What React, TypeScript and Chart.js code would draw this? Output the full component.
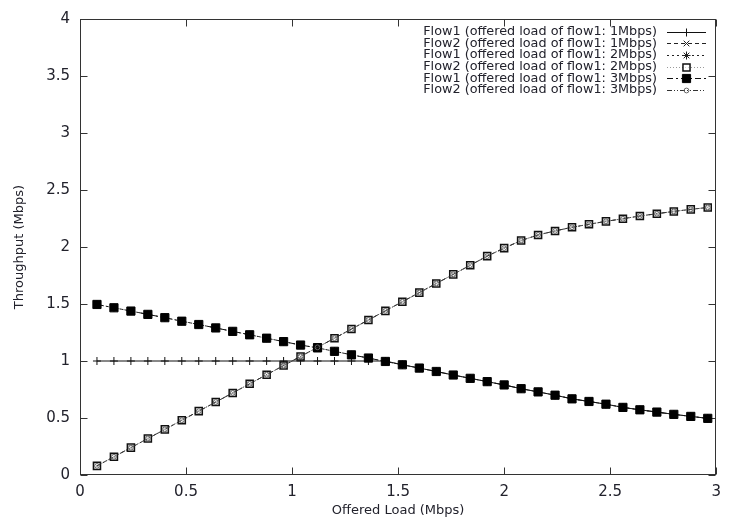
import React, { useEffect, useRef } from 'react';
import { Chart, registerables } from 'chart.js';

Chart.register(...registerables);

// Offered load of flow2 (x axis, Mbps)
const offeredLoad = [
  0.08, 0.16, 0.24, 0.32, 0.40, 0.48, 0.56, 0.64, 0.72, 0.80, 0.88, 0.96, 1.04,
  1.12, 1.20, 1.28, 1.36, 1.44, 1.52, 1.60, 1.68, 1.76, 1.84, 1.92, 2.00, 2.08,
  2.16, 2.24, 2.32, 2.40, 2.48, 2.56, 2.64, 2.72, 2.80, 2.88, 2.96,
];

const flow1Load1 = [
  1, 1, 1, 1, 1, 1, 1, 1, 1, 1, 1, 1, 1, 1, 1, 1, 1, 1.0, 0.967, 0.938, 0.908,
  0.877, 0.848, 0.819, 0.79, 0.757, 0.729, 0.70, 0.668, 0.645, 0.621, 0.593,
  0.572, 0.552, 0.532, 0.514, 0.497,
];

const flow2Load1 = [
  0.08, 0.16, 0.24, 0.32, 0.40, 0.48, 0.56, 0.64, 0.72, 0.80, 0.88, 0.96, 1.04,
  1.12, 1.20, 1.28, 1.36, 1.44, 1.52, 1.60, 1.68, 1.76, 1.84, 1.92, 1.99, 2.057,
  2.106, 2.141, 2.173, 2.199, 2.225, 2.248, 2.272, 2.292, 2.312, 2.33, 2.347,
];

const flow1Load2 = [
  1.496, 1.467, 1.438, 1.409, 1.38, 1.349, 1.32, 1.29, 1.26, 1.23, 1.20, 1.17,
  1.14, 1.115, 1.085, 1.054, 1.026, 0.996, 0.967, 0.938, 0.908, 0.877, 0.848,
  0.819, 0.79, 0.757, 0.729, 0.70, 0.668, 0.645, 0.621, 0.593, 0.572, 0.552,
  0.532, 0.514, 0.497,
];

const flow2Load2 = [
  0.08, 0.16, 0.24, 0.32, 0.40, 0.48, 0.56, 0.64, 0.72, 0.80, 0.88, 0.96, 1.04,
  1.12, 1.20, 1.28, 1.36, 1.44, 1.52, 1.60, 1.68, 1.76, 1.84, 1.92, 1.99, 2.057,
  2.106, 2.141, 2.173, 2.199, 2.225, 2.248, 2.272, 2.292, 2.312, 2.33, 2.347,
];

const flow1Load3 = [
  1.496, 1.467, 1.438, 1.409, 1.38, 1.349, 1.32, 1.29, 1.26, 1.23, 1.20, 1.17,
  1.14, 1.115, 1.085, 1.054, 1.026, 0.996, 0.967, 0.938, 0.908, 0.877, 0.848,
  0.819, 0.79, 0.757, 0.729, 0.70, 0.668, 0.645, 0.621, 0.593, 0.572, 0.552,
  0.532, 0.514, 0.497,
];

const flow2Load3 = [
  0.08, 0.16, 0.24, 0.32, 0.40, 0.48, 0.56, 0.64, 0.72, 0.80, 0.88, 0.96, 1.04,
  1.12, 1.20, 1.28, 1.36, 1.44, 1.52, 1.60, 1.68, 1.76, 1.84, 1.92, 1.99, 2.057,
  2.106, 2.141, 2.173, 2.199, 2.225, 2.248, 2.272, 2.292, 2.312, 2.33, 2.347,
];

const seriesLabels = [
  'Flow1 (offered load of flow1: 1Mbps)',
  'Flow2 (offered load of flow1: 1Mbps)',
  'Flow1 (offered load of flow1: 2Mbps)',
  'Flow2 (offered load of flow1: 2Mbps)',
  'Flow1 (offered load of flow1: 3Mbps)',
  'Flow2 (offered load of flow1: 3Mbps)',
];

const xAxisTitle = 'Offered Load (Mbps)';
const yAxisTitle = 'Throughput (Mbps)';
const xMin = 0, xMax = 3, xStep = 0.5;
const yMin = 0, yMax = 4, yStep = 0.5;

const TEXT = '#22222c';
const FONT = '"DejaVu Sans", sans-serif';

type Style = {
  line: string;
  dash: number[];
  point: string;
  radius: number;
  pFill: string;
  pStroke: string;
  pWidth: number;
};

const styles: Style[] = [
  { line: '#111', dash: [], point: 'cross', radius: 4, pFill: 'rgba(0,0,0,0)', pStroke: '#111', pWidth: 1 },
  { line: '#222', dash: [4, 3], point: 'crossRot', radius: 4, pFill: 'rgba(0,0,0,0)', pStroke: '#222', pWidth: 1 },
  { line: '#222', dash: [2, 3], point: 'star', radius: 4, pFill: 'rgba(0,0,0,0)', pStroke: '#222', pWidth: 1 },
  { line: '#9a9a9a', dash: [1, 2], point: 'rect', radius: 5, pFill: 'rgba(255,255,255,0.6)', pStroke: '#111', pWidth: 1.5 },
  { line: '#111', dash: [6, 3, 2, 3], point: 'rect', radius: 5.8, pFill: '#000', pStroke: '#000', pWidth: 1 },
  { line: '#333', dash: [5, 2, 1, 2, 1, 2], point: 'circle', radius: 2.4, pFill: 'rgba(0,0,0,0)', pStroke: '#666', pWidth: 1 },
];

const seriesValues = [flow1Load1, flow2Load1, flow1Load2, flow2Load2, flow1Load3, flow2Load3];

const fmt = (v: any) => String(parseFloat(Number(v).toFixed(2)));

function drawMarker(ctx: CanvasRenderingContext2D, s: Style, x: number, y: number) {
  const r = s.radius;
  ctx.save();
  ctx.setLineDash([]);
  ctx.lineWidth = s.pWidth;
  ctx.strokeStyle = s.pStroke;
  ctx.fillStyle = s.pFill;
  ctx.beginPath();
  const d = r * Math.SQRT1_2;
  if (s.point === 'cross' || s.point === 'star') {
    ctx.moveTo(x - r, y); ctx.lineTo(x + r, y);
    ctx.moveTo(x, y - r); ctx.lineTo(x, y + r);
  }
  if (s.point === 'crossRot' || s.point === 'star') {
    ctx.moveTo(x - d, y - d); ctx.lineTo(x + d, y + d);
    ctx.moveTo(x - d, y + d); ctx.lineTo(x + d, y - d);
  }
  if (s.point === 'rect') {
    ctx.rect(x - d, y - d, 2 * d, 2 * d);
    ctx.fill();
  }
  if (s.point === 'circle') {
    ctx.arc(x, y, r, 0, Math.PI * 2);
    ctx.fill();
  }
  ctx.stroke();
  ctx.restore();
}

const framePlugin = {
  id: 'gnuFrame',
  beforeDatasetsDraw(chart: any) {
    const { ctx, chartArea: a, scales } = chart;
    const t = 7;
    ctx.save();
    ctx.setLineDash([]);
    ctx.strokeStyle = '#333';
    ctx.lineWidth = 1;
    const L = Math.round(a.left) + 0.5;
    const R = Math.round(a.right) - 0.5;
    const T = Math.round(a.top) + 0.5;
    const B = Math.round(a.bottom) - 0.5;
    ctx.strokeRect(L, T, R - L, B - T);
    ctx.beginPath();
    scales.x.ticks.forEach((tk: any) => {
      const px = Math.round(scales.x.getPixelForValue(tk.value)) + 0.5;
      ctx.moveTo(px, B); ctx.lineTo(px, B - t);
      ctx.moveTo(px, T); ctx.lineTo(px, T + t);
    });
    scales.y.ticks.forEach((tk: any) => {
      const py = Math.round(scales.y.getPixelForValue(tk.value)) + 0.5;
      ctx.moveTo(L, py); ctx.lineTo(L + t, py);
      ctx.moveTo(R, py); ctx.lineTo(R - t, py);
    });
    ctx.stroke();
    ctx.restore();
  },
};

const legendPlugin = {
  id: 'gnuLegend',
  afterDatasetsDraw(chart: any) {
    const { ctx } = chart;
    const textRight = 657;
    const lineStart = 667;
    const lineEnd = 706;
    const top = 31.5;
    const rowH = 11.7;
    ctx.save();
    ctx.font = `12.8px ${FONT}`;
    ctx.textAlign = 'right';
    ctx.textBaseline = 'middle';
    chart.data.datasets.forEach((ds: any, i: number) => {
      const y = top + i * rowH;
      const s = styles[i];
      ctx.fillStyle = TEXT;
      ctx.fillText(ds.label, textRight, y);
      ctx.save();
      ctx.strokeStyle = s.line;
      ctx.lineWidth = 1;
      ctx.setLineDash(s.dash);
      ctx.beginPath();
      ctx.moveTo(lineStart, Math.round(y) + 0.5);
      ctx.lineTo(lineEnd, Math.round(y) + 0.5);
      ctx.stroke();
      ctx.restore();
      drawMarker(ctx, s, (lineStart + lineEnd) / 2, Math.round(y) + 0.5);
    });
    ctx.restore();
  },
};

export default function App() {
  const canvasRef = useRef<HTMLCanvasElement | null>(null);

  useEffect(() => {
    document.body.style.margin = '0';
    const canvas = canvasRef.current;
    if (!canvas) return;
    const datasets = seriesValues.map((vals, i) => {
      const s = styles[i];
      return {
        label: seriesLabels[i],
        data: offeredLoad.map((x, k) => ({ x, y: vals[k] })),
        borderColor: s.line,
        borderWidth: 1,
        borderDash: s.dash,
        pointStyle: s.point,
        pointRadius: s.radius,
        pointBackgroundColor: s.pFill,
        pointBorderColor: s.pStroke,
        pointBorderWidth: s.pWidth,
        showLine: true,
        fill: false,
        tension: 0,
        order: seriesValues.length - 1 - i,
      };
    });

    const chart = new Chart(canvas, {
      type: 'scatter',
      data: { datasets },
      options: {
        responsive: false,
        animation: false,
        devicePixelRatio: 1,
        layout: { padding: { top: 16, right: 5, left: 0, bottom: 0 } },
        plugins: { legend: { display: false }, tooltip: { enabled: false } },
        scales: {
          x: {
            type: 'linear',
            min: xMin,
            max: xMax,
            grid: { display: false, drawTicks: false },
            border: { display: false },
            ticks: {
              stepSize: xStep,
              color: TEXT,
              padding: 8,
              maxRotation: 0,
              autoSkip: false,
              font: { family: FONT, size: 15 },
              callback: (v: any) => fmt(v),
            },
            title: {
              display: true,
              text: xAxisTitle,
              color: TEXT,
              font: { family: FONT, size: 13 },
              padding: { top: 0, bottom: 3 },
            },
            afterFit(scale: any) {
              scale.height = 46;
            },
          },
          y: {
            type: 'linear',
            min: yMin,
            max: yMax,
            grid: { display: false, drawTicks: false },
            border: { display: false },
            ticks: {
              stepSize: yStep,
              color: TEXT,
              padding: 10,
              autoSkip: false,
              font: { family: FONT, size: 15 },
              callback: (v: any) => fmt(v),
            },
            title: {
              display: true,
              text: yAxisTitle,
              color: TEXT,
              font: { family: FONT, size: 13 },
              padding: { top: 12, bottom: 0 },
            },
            afterFit(scale: any) {
              scale.width = 80;
            },
          },
        },
      },
      plugins: [framePlugin, legendPlugin],
    } as any);

    return () => chart.destroy();
  }, []);

  return (
    <div style={{ position: 'absolute', left: 0, top: 0, width: 729, height: 521, background: '#fff' }}>
      <canvas ref={canvasRef} width={729} height={521} style={{ display: 'block' }} />
    </div>
  );
}
